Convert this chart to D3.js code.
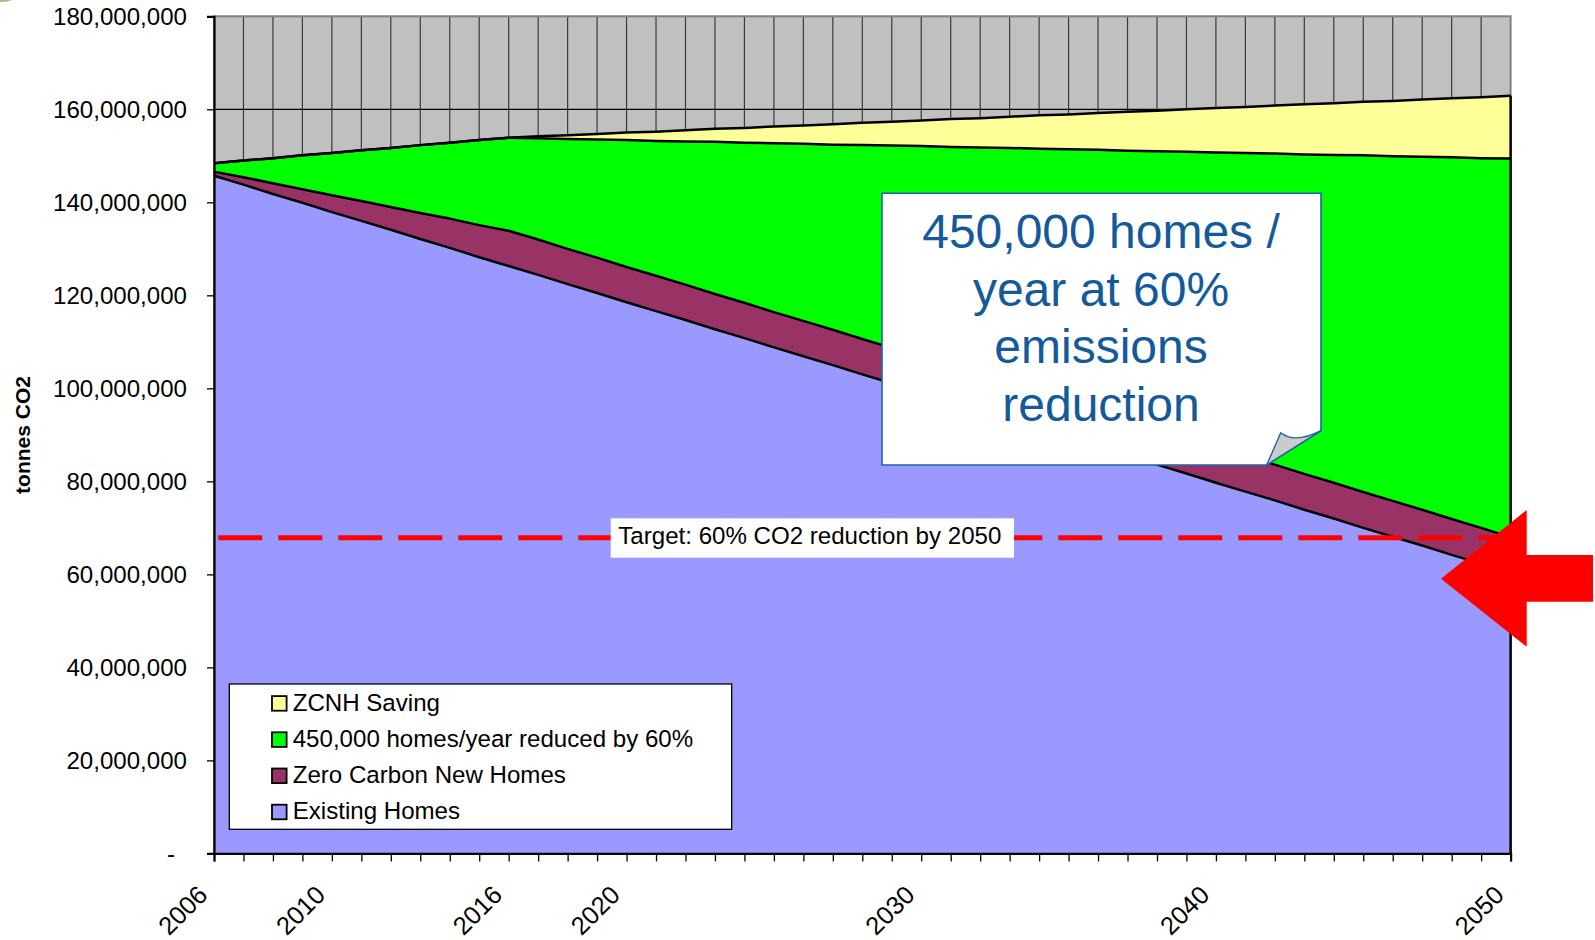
<!DOCTYPE html>
<html>
<head>
<meta charset="utf-8">
<script src="https://cdn.jsdelivr.net/npm/d3@7"></script>
<style>
  html, body { margin: 0; padding: 0; background: #ffffff; }
  svg { display: block; font-family: "Liberation Sans", Arial, sans-serif; }
</style>
</head>
<body>
<svg id="chart" width="1595" height="940"></svg>
<script>
// ---------------- DATA (values in millions of tonnes CO2) ----------------
const years = [2006,2007,2008,2009,2010,2011,2012,2013,2014,2015,2016,2017,2018,2019,2020,
  2021,2022,2023,2024,2025,2026,2027,2028,2029,2030,2031,2032,2033,2034,2035,
  2036,2037,2038,2039,2040,2041,2042,2043,2044,2045,2046,2047,2048,2049,2050];

const existingHomes = [145.7,143.8,141.8,139.9,137.9,136.0,134.1,132.1,130.2,128.2,126.3,124.4,122.4,120.5,118.5,
  116.6,114.7,112.7,110.8,108.8,106.9,105.0,103.0,101.1,99.1,97.2,95.3,93.3,91.4,89.4,
  87.5,85.6,83.6,81.7,79.7,77.8,75.9,73.9,72.0,70.0,68.1,66.2,64.2,62.3,60.3];

const zeroCarbonNewHomes = [0.9,1.6,2.3,2.9,3.6,4.3,4.9,5.6,6.3,6.9,7.6,7.6,7.6,7.6,7.6,
  7.6,7.6,7.6,7.6,7.6,7.6,7.6,7.6,7.6,7.6,7.6,7.6,7.6,7.6,7.6,
  7.6,7.6,7.6,7.6,7.6,7.7,7.7,7.7,7.7,7.7,7.7,7.7,7.7,7.7,7.7];

const homes450kReduced60 = [1.8,3.6,5.4,7.3,9.1,10.9,12.7,14.6,16.3,18.3,20.0,21.8,23.6,25.4,27.3,
  29.0,30.8,32.7,34.4,36.3,38.1,39.8,41.7,43.5,45.4,47.1,48.9,50.8,52.5,54.4,
  56.2,57.9,59.8,61.6,63.4,65.1,66.9,68.7,70.5,72.4,74.1,75.9,77.8,79.5,81.4];

const zcnhSaving = [0,0,0,0,0,0,0,0,0,0,0,0.4,0.8,1.2,1.6,
  2.0,2.4,2.8,3.2,3.6,3.9,4.4,4.8,5.1,5.5,6.0,6.3,6.7,7.2,7.5,
  7.9,8.4,8.7,9.1,9.6,9.9,10.3,10.8,11.1,11.5,11.9,12.3,12.7,13.1,13.5];

const targetValue = 67.9; // millions

const seriesNames = ["Existing Homes", "Zero Carbon New Homes", "450,000 homes/year reduced by 60%", "ZCNH Saving"];
const seriesColors = ["#9999FF", "#993366", "#00FF00", "#FFFF99"];

const xLabelYears = [2006, 2010, 2016, 2020, 2030, 2040, 2050];
const yTickValues = [0, 20e6, 40e6, 60e6, 80e6, 100e6, 120e6, 140e6, 160e6, 180e6];

const yTitle = "tonnes CO2";
const targetLabel = "Target: 60% CO2 reduction by 2050";
const calloutLines = ["450,000 homes /", "year at 60%", "emissions", "reduction"];

// ---------------- BUILD TABLE ----------------
const seriesArrays = [existingHomes, zeroCarbonNewHomes, homes450kReduced60, zcnhSaving];
const table = years.map((yr, i) => {
  const row = { year: yr };
  seriesNames.forEach((n, k) => row[n] = seriesArrays[k][i] * 1e6);
  return row;
});
const stacked = d3.stack().keys(seriesNames)(table);

// ---------------- LAYOUT ----------------
const svg = d3.select("#chart");
const plot = { left: 214, right: 1510.6, top: 16.3, bottom: 853.4 };
const x = d3.scaleLinear().domain([2006, 2050]).range([plot.left, plot.right]);
const y = d3.scaleLinear().domain([0, 180e6]).range([plot.bottom, plot.top]);
const FONT = 24.1;
const XFONT = 25.5;

// small decorative blob top-left (partial logo)
svg.append("ellipse").attr("cx", 2).attr("cy", -7).attr("rx", 16).attr("ry", 9).attr("fill", "#BFAE84");

// plot background
svg.append("rect")
  .attr("x", plot.left).attr("y", plot.top)
  .attr("width", plot.right - plot.left).attr("height", plot.bottom - plot.top)
  .attr("fill", "#C0C0C0");

// vertical gridlines (each year)
svg.append("g").selectAll("line").data(years.slice(1, -1)).join("line")
  .attr("x1", d => x(d)).attr("x2", d => x(d))
  .attr("y1", plot.top).attr("y2", plot.bottom)
  .attr("stroke", "#3a3a3a").attr("stroke-width", 1.2);

// horizontal gridlines
svg.append("g").selectAll("line").data(yTickValues.slice(1, -1)).join("line")
  .attr("x1", plot.left).attr("x2", plot.right)
  .attr("y1", d => y(d)).attr("y2", d => y(d))
  .attr("stroke", "#000").attr("stroke-width", 1.2);

// plot border
svg.append("rect")
  .attr("x", plot.left).attr("y", plot.top)
  .attr("width", plot.right - plot.left).attr("height", plot.bottom - plot.top)
  .attr("fill", "none").attr("stroke", "#808080").attr("stroke-width", 2);

// stacked areas
const area = d3.area().x(d => x(d.data.year)).y0(d => y(d[0])).y1(d => y(d[1]));
svg.append("g").selectAll("path").data(stacked).join("path")
  .attr("d", area)
  .attr("fill", (d, i) => seriesColors[i]);

// top edges of each layer
const topLine = d3.line().x(d => x(d.data.year)).y(d => y(d[1]));
svg.append("g").selectAll("path").data(stacked).join("path")
  .attr("d", topLine)
  .attr("fill", "none").attr("stroke", "#000").attr("stroke-width", 2.5)
  .attr("stroke-linejoin", "round");

// right edge of stack
const last = stacked[stacked.length - 1];
svg.append("line")
  .attr("x1", x(2050)).attr("x2", x(2050))
  .attr("y1", y(0)).attr("y2", y(last[last.length - 1][1]))
  .attr("stroke", "#000").attr("stroke-width", 2.5);

// ---------------- AXES ----------------
const yAxis = d3.axisLeft(y).tickValues(yTickValues).tickSize(7).tickPadding(20)
  .tickFormat(d => d === 0 ? "-" : d3.format(",")(d));
const gy = svg.append("g").attr("transform", `translate(${plot.left},0)`).call(yAxis);
gy.select(".domain").attr("stroke", "#000").attr("stroke-width", 2.2);
gy.selectAll(".tick line").attr("stroke", "#000").attr("stroke-width", 1.3);
gy.selectAll(".tick text").attr("font-size", FONT).attr("fill", "#000")
  .attr("font-family", "'Liberation Sans', Arial, sans-serif");
gy.selectAll(".tick text").filter(d => d === 0).attr("text-anchor", "middle").attr("x", -43);

const xAxis = d3.axisBottom(x).tickValues(years).tickSize(8)
  .tickFormat(d => xLabelYears.includes(d) ? String(d) : "");
const gx = svg.append("g").attr("transform", `translate(0,${plot.bottom})`).call(xAxis);
gx.select(".domain").attr("stroke", "#000").attr("stroke-width", 2.2);
gx.selectAll(".tick line").attr("stroke", "#000").attr("stroke-width", 1.3);
gx.selectAll(".tick text")
  .attr("font-size", XFONT).attr("fill", "#000")
  .attr("font-family", "'Liberation Sans', Arial, sans-serif")
  .attr("text-anchor", "end").attr("x", 0).attr("y", 0).attr("dy", 0)
  .attr("transform", "translate(-5.5,43) rotate(-45)");

// ---------------- TARGET LINE ----------------
svg.append("line")
  .attr("x1", 218.3).attr("x2", plot.right)
  .attr("y1", y(targetValue * 1e6)).attr("y2", y(targetValue * 1e6))
  .attr("stroke", "#FF0000").attr("stroke-width", 5)
  .attr("stroke-dasharray", "44,16");

svg.append("rect").attr("x", 610.7).attr("y", 518.3).attr("width", 403.3).attr("height", 39.4)
  .attr("fill", "#fff");
svg.append("text").attr("x", 618.3).attr("y", 543.5)
  .attr("font-size", FONT).attr("fill", "#000").text(targetLabel);

// ---------------- CALLOUT ----------------
const cb = { l: 882, t: 193.3, r: 1321, b: 465, cutY: 430.7, cutX: 1266.7 };
svg.append("path")
  .attr("d", `M${cb.l},${cb.t}H${cb.r}V${cb.cutY}L${cb.cutX},${cb.b}H${cb.l}Z`)
  .attr("fill", "#fff").attr("stroke", "#1F64A8").attr("stroke-width", 1.6);
svg.append("path")
  .attr("d", `M${cb.cutX},${cb.b}L1280.7,432.7Q1295,444 ${cb.r},${cb.cutY}Z`)
  .attr("fill", "#CBCBCB").attr("stroke", "#1F64A8").attr("stroke-width", 1.4)
  .attr("stroke-linejoin", "round");
svg.append("g").selectAll("text").data(calloutLines).join("text")
  .attr("x", 1101).attr("y", (d, i) => 248 + i * 57.6)
  .attr("text-anchor", "middle").attr("font-size", 48).attr("fill", "#145A9B")
  .text(d => d);

// ---------------- ARROW ----------------
svg.append("path")
  .attr("d", "M1441,578.7 L1526.7,510 L1526.7,555 L1593,555 L1593,601.7 L1526.7,601.7 L1526.7,646.7 Z")
  .attr("fill", "#FF0000");

// ---------------- LEGEND ----------------
const lg = svg.append("g");
lg.append("rect").attr("x", 229.3).attr("y", 684).attr("width", 502.4).attr("height", 145.3)
  .attr("fill", "#fff").attr("stroke", "#000").attr("stroke-width", 1.3);
const legendOrder = [3, 2, 1, 0];
const items = lg.selectAll("g.item").data(legendOrder).join("g")
  .attr("transform", (d, i) => `translate(0,${710.7 + i * 36.2})`);
items.append("rect").attr("x", 272).attr("y", -14.6).attr("width", 14.6).attr("height", 14.6)
  .attr("fill", d => seriesColors[d]).attr("stroke", "#000").attr("stroke-width", 1.8);
items.append("text").attr("x", 292.7).attr("y", 0)
  .attr("font-size", FONT).attr("fill", "#000").text(d => seriesNames[d]);

// ---------------- Y TITLE ----------------
svg.append("text")
  .attr("transform", "translate(30,435) rotate(-90)")
  .attr("text-anchor", "middle").attr("font-weight", "bold").attr("font-size", 21)
  .attr("fill", "#000").text(yTitle);
</script>
</body>
</html>
